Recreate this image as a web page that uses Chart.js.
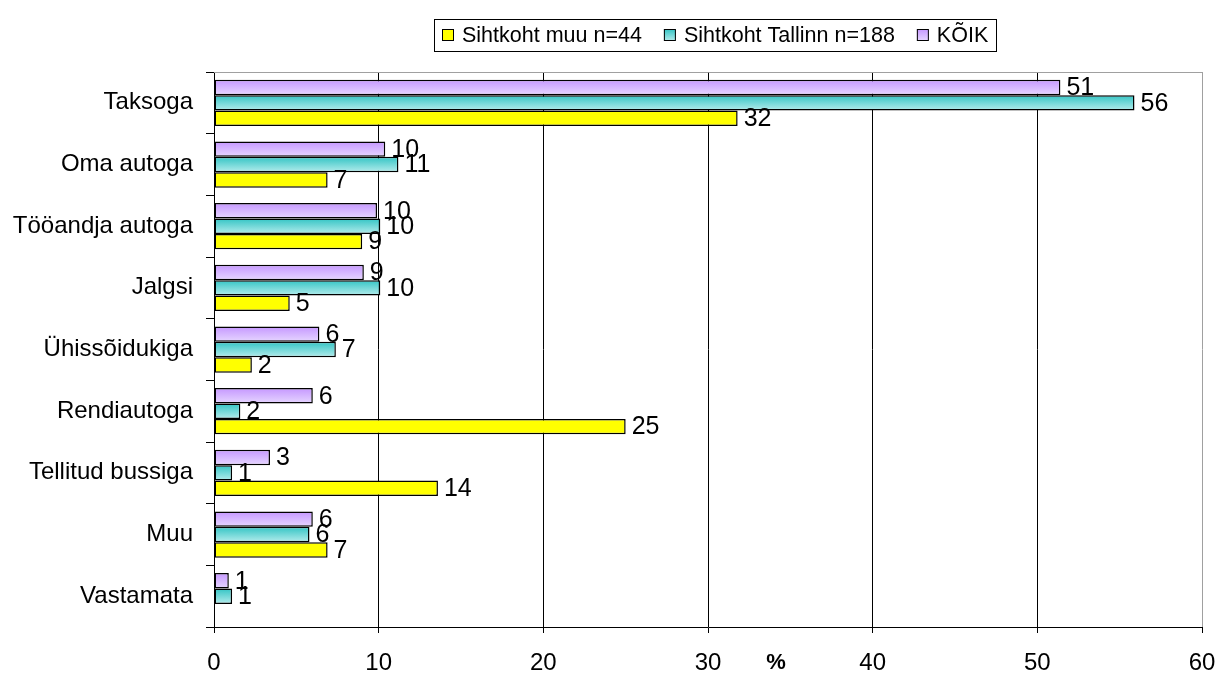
<!DOCTYPE html>
<html><head><meta charset="utf-8">
<script src="https://cdn.jsdelivr.net/npm/chart.js@4/dist/chart.umd.min.js"></script>
<style>html,body{margin:0;padding:0;background:#fff}canvas{display:block}</style>
</head><body>
<canvas id="c" width="1218" height="673"></canvas>
<script>
const categories = ["Taksoga","Oma autoga","Tööandja autoga","Jalgsi","Ühissõidukiga","Rendiautoga","Tellitud bussiga","Muu","Vastamata"];
const seriesNames = ["Sihtkoht muu n=44","Sihtkoht Tallinn n=188","KÕIK"];
const valuesMuu = [31.8, 6.9, 9.0, 4.6, 2.3, 25.0, 13.6, 6.9, null];
const valuesTallinn = [55.9, 11.2, 10.1, 10.1, 7.4, 1.6, 1.1, 5.8, 1.1];
const valuesKoik = [51.4, 10.4, 9.9, 9.1, 6.4, 6.0, 3.4, 6.0, 0.9];
const xTicks = [0, 10, 20, 30, 40, 50, 60];
const xTitle = "%";

const FONT = "'Liberation Sans', Arial, sans-serif";
const CAT_PCT = 0.75;

// colour stops [top, bottom] per series (legend order)
const seriesColors = [["#ffff00", "#ffff00"], ["#33c4c4", "#b4ecec"], ["#c597ff", "#e6d6ff"]];

function barGradient(stops, slot) {
  return function (c) {
    const ch = c.chart, ys = ch.scales.y;
    if (!ys || c.dataIndex == null || !ch.chartArea) return stops[1];
    const center = ys.getPixelForValue(c.dataIndex);
    const cat = Math.abs(ys.getPixelForValue(1) - ys.getPixelForValue(0));
    const h = cat * CAT_PCT / 3;
    const top = center - cat * CAT_PCT / 2 + h * slot;
    const g = ch.ctx.createLinearGradient(0, top, 0, top + h);
    g.addColorStop(0, stops[0]);
    g.addColorStop(1, stops[1]);
    return g;
  };
}

// drawn order top->bottom: KÕIK, Tallinn, muu
const datasets = [
  { label: seriesNames[2], data: valuesKoik, legendIndex: 2, backgroundColor: barGradient(seriesColors[2], 0) },
  { label: seriesNames[1], data: valuesTallinn, legendIndex: 1, backgroundColor: barGradient(seriesColors[1], 1) },
  { label: seriesNames[0], data: valuesMuu, legendIndex: 0, backgroundColor: barGradient(seriesColors[0], 2) }
].map(d => Object.assign(d, { borderColor: "#000", borderWidth: 1.5, barPercentage: 1, categoryPercentage: CAT_PCT, borderSkipped: false }));

const extras = {
  id: "extras",
  beforeDatasetsDraw(chart) {
    const ctx = chart.ctx, a = chart.chartArea;
    ctx.save();
    ctx.strokeStyle = "#a0a0a0";
    ctx.lineWidth = 1;
    ctx.beginPath();
    ctx.moveTo(a.left, a.top + 0.5);
    ctx.lineTo(a.right + 0.5, a.top + 0.5);
    ctx.stroke();
    ctx.restore();
  },
  afterDatasetsDraw(chart) {
    const ctx = chart.ctx;
    ctx.save();
    ctx.font = "25px " + FONT;
    ctx.fillStyle = "#000";
    ctx.textAlign = "left";
    ctx.textBaseline = "middle";
    chart.data.datasets.forEach((ds, di) => {
      const meta = chart.getDatasetMeta(di);
      meta.data.forEach((el, i) => {
        const v = ds.data[i];
        if (v == null) return;
        ctx.fillText(String(Math.round(v)), el.x + 6, el.y + 1);
      });
    });
    ctx.restore();
  },
  afterDraw(chart) {
    const ctx = chart.ctx;
    ctx.save();
    // axis title
    ctx.font = "bold 22px " + FONT;
    ctx.fillStyle = "#000";
    ctx.textAlign = "center";
    ctx.textBaseline = "middle";
    ctx.fillText(xTitle, 776, 663);
    // legend
    ctx.font = "21.5px " + FONT;
    const box = 12, gapBoxText = 8, gapItems = 22, padX = 8;
    const order = [2, 1, 0]; // dataset indices in legend order
    let widths = order.map(di => box + gapBoxText + ctx.measureText(chart.data.datasets[di].label).width);
    let total = widths.reduce((s, w) => s + w, 0) + gapItems * (order.length - 1) + padX * 2;
    const cx = 715, cy = 35, bh = 32;
    let x = Math.round(cx - total / 2);
    ctx.strokeStyle = "#000";
    ctx.lineWidth = 1;
    ctx.strokeRect(x + 0.5, cy - bh / 2 + 0.5, Math.round(total), bh);
    x += padX;
    order.forEach((di, k) => {
      const stops = seriesColors[chart.data.datasets[di].legendIndex];
      const g = ctx.createLinearGradient(0, cy - box / 2, 0, cy + box / 2);
      g.addColorStop(0, stops[0]);
      g.addColorStop(1, stops[1]);
      ctx.fillStyle = g;
      ctx.fillRect(x, cy - box / 2, box, box);
      ctx.strokeRect(x + 0.5, cy - box / 2 + 0.5, box - 1, box - 1);
      ctx.fillStyle = "#000";
      ctx.textAlign = "left";
      ctx.textBaseline = "middle";
      ctx.fillText(chart.data.datasets[di].label, x + box + gapBoxText, cy + 1);
      x += widths[k] + gapItems;
    });
    ctx.restore();
  }
};

new Chart(document.getElementById("c"), {
  type: "bar",
  data: { labels: categories, datasets },
  options: {
    indexAxis: "y",
    responsive: false,
    animation: false,
    events: [],
    layout: { padding: { top: 72, right: 16, left: 0, bottom: 0 } },
    plugins: { legend: { display: false }, tooltip: { enabled: false } },
    scales: {
      x: {
        type: "linear",
        min: xTicks[0], max: xTicks[xTicks.length - 1],
        afterBuildTicks(s) { s.ticks = xTicks.map(v => ({ value: v })); },
        afterFit(s) { s.height = 46; s.paddingLeft = 0; s.paddingRight = 0; },
        border: { color: "#000", width: 1 },
        grid: {
          color: c => (c.index === xTicks.length - 1 ? "#a0a0a0" : "#000"),
          tickColor: "#000",
          tickLength: 6,
          lineWidth: 1
        },
        ticks: { color: "#000", font: { family: FONT, size: 24 }, padding: 16, maxRotation: 0 }
      },
      y: {
        type: "category",
        afterFit(s) { s.width = 214; s.paddingTop = 0; s.paddingBottom = 0; },
        border: { color: "#000", width: 1 },
        grid: { drawOnChartArea: false, color: "#000", tickLength: 8, offset: true },
        ticks: { color: "#000", font: { family: FONT, size: 24 }, padding: 13, autoSkip: false }
      }
    }
  },
  plugins: [extras]
});
</script>
</body></html>
